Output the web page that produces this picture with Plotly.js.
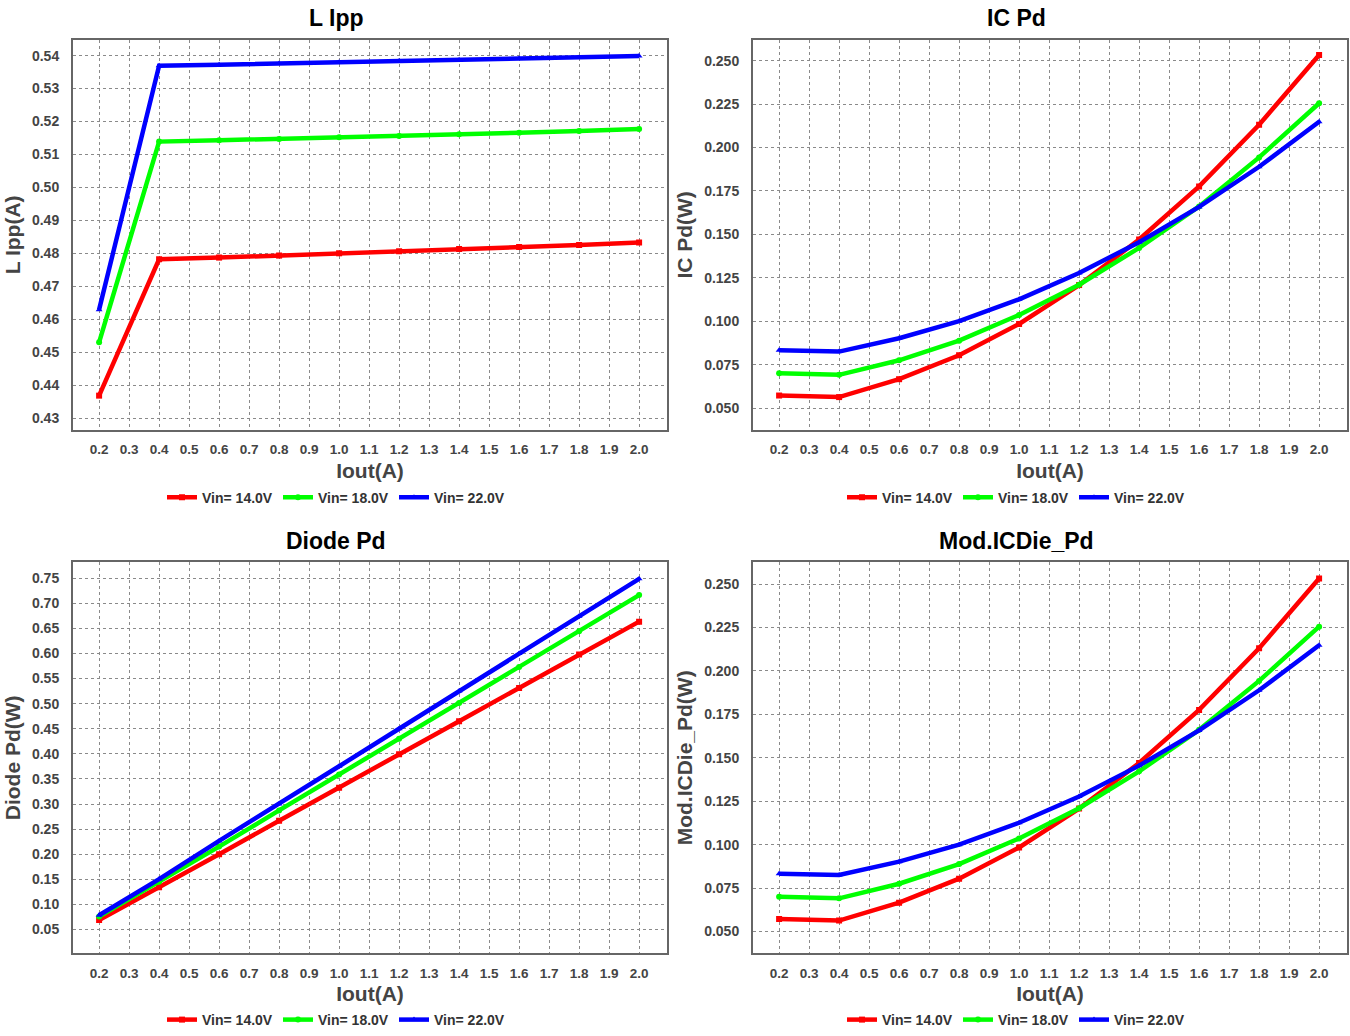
<!DOCTYPE html>
<html>
<head>
<meta charset="utf-8">
<script src="https://cdn.plot.ly/plotly-3.0.1.min.js"></script>
<style>
html,body{margin:0;padding:0;background:#fff;}
#chart{width:1350px;height:1036px;}
</style>
</head>
<body>
<div id="chart"></div>
<script>
// ---- data ----
const iout = [0.2, 0.4, 0.6, 0.8, 1.0, 1.2, 1.4, 1.6, 1.8, 2.0];
const seriesNames = ["Vin= 14.0V", "Vin= 18.0V", "Vin= 22.0V"];

const lIpp14 = [0.4368, 0.4782, 0.4787, 0.4793, 0.4800, 0.4806, 0.4813, 0.4819, 0.4825, 0.4833];
const lIpp18 = [0.4530, 0.5139, 0.5143, 0.5147, 0.5152, 0.5156, 0.5161, 0.5166, 0.5171, 0.5177];
const lIpp22 = [0.4629, 0.5369, 0.5372, 0.5376, 0.5380, 0.5384, 0.5387, 0.5391, 0.5394, 0.5399];

const icPd14 = [0.0572, 0.0563, 0.0666, 0.0804, 0.0984, 0.1208, 0.1470, 0.1776, 0.2131, 0.2533];
const icPd18 = [0.0700, 0.0691, 0.0775, 0.0888, 0.1036, 0.1210, 0.1422, 0.1661, 0.1943, 0.2255];
const icPd22 = [0.0833, 0.0825, 0.0902, 0.1000, 0.1126, 0.1277, 0.1455, 0.1658, 0.1889, 0.2148];

const diodePd14 = [0.0690, 0.1340, 0.2000, 0.2668, 0.3322, 0.3990, 0.4650, 0.5312, 0.5980, 0.6634];
const diodePd18 = [0.0757, 0.1452, 0.2152, 0.2873, 0.3587, 0.4300, 0.5015, 0.5729, 0.6442, 0.7163];
const diodePd22 = [0.0784, 0.1505, 0.2265, 0.3000, 0.3752, 0.4500, 0.5253, 0.6000, 0.6740, 0.7487];

const modPd14 = [0.0572, 0.0563, 0.0666, 0.0804, 0.0984, 0.1208, 0.1470, 0.1776, 0.2131, 0.2533];
const modPd18 = [0.0700, 0.0691, 0.0775, 0.0888, 0.1036, 0.1210, 0.1422, 0.1661, 0.1943, 0.2255];
const modPd22 = [0.0833, 0.0825, 0.0902, 0.1000, 0.1126, 0.1277, 0.1455, 0.1658, 0.1889, 0.2148];

const panelTitles = ["L Ipp", "IC Pd", "Diode Pd", "Mod.ICDie_Pd"];
const yTitles = ["L Ipp(A)", "IC Pd(W)", "Diode Pd(W)", "Mod.ICDie_Pd(W)"];
const xTitle = "Iout(A)";

// ---- styling ----
const colors = ["#ff0000", "#00ff00", "#0000ff"];
const symbols = ["square", "circle", "triangle-up"];
const FONT = "Liberation Sans, Arial, sans-serif";

const panels = [
  {ys: [lIpp14, lIpp18, lIpp22], xa: "x", ya: "y", lg: "legend", yr: [0.4264, 0.5448], dt: 0.01, fmt: ".2f"},
  {ys: [icPd14, icPd18, icPd22], xa: "x2", ya: "y2", lg: "legend2", yr: [0.0374, 0.262], dt: 0.025, fmt: ".3f"},
  {ys: [diodePd14, diodePd18, diodePd22], xa: "x3", ya: "y3", lg: "legend3", yr: [0.0024, 0.7817], dt: 0.05, fmt: ".2f"},
  {ys: [modPd14, modPd18, modPd22], xa: "x4", ya: "y4", lg: "legend4", yr: [0.0374, 0.2626], dt: 0.025, fmt: ".3f"}
];

const traces = [];
panels.forEach(p => {
  p.ys.forEach((ys, i) => {
    traces.push({
      x: iout, y: ys, xaxis: p.xa, yaxis: p.ya, legend: p.lg,
      type: "scatter", mode: "lines+markers", name: seriesNames[i],
      line: {color: colors[i], width: 4.5},
      marker: {color: colors[i], symbol: symbols[i], size: 6}
    });
  });
});

const W = 1350, H = 1036;
const colX = [[73 / W, 667 / W], [753 / W, 1347 / W]];
const rowY = [[1 - 432 / H, 1 - 40 / H], [1 - 958 / H, 1 - 565 / H]];

function xaxis(dom, anchor) {
  return {
    domain: dom, anchor: anchor, range: [0.113, 2.093],
    tickmode: "linear", tick0: 0.2, dtick: 0.1, tickformat: ".1f",
    showgrid: true, gridcolor: "#8a8a8a", griddash: "dot", gridwidth: 1,
    zeroline: false, showline: true, mirror: true, linecolor: "#666", linewidth: 2,
    ticks: "", ticklabelstandoff: 6,
    tickfont: {family: FONT, size: 13.5, color: "#444", weight: "bold"},
    title: {text: xTitle, font: {family: FONT, size: 21, color: "#444", weight: "bold"}, standoff: 7}
  };
}
function yaxis(dom, anchor, p, t) {
  return {
    domain: dom, anchor: anchor, range: p.yr,
    tickmode: "linear", tick0: 0, dtick: p.dt, tickformat: p.fmt,
    showgrid: true, gridcolor: "#8a8a8a", griddash: "dot", gridwidth: 1,
    zeroline: false, showline: true, mirror: true, linecolor: "#666", linewidth: 2,
    ticks: "", ticklabelstandoff: 9,
    tickfont: {family: FONT, size: 14, color: "#444", weight: "bold"},
    title: {text: t, font: {family: FONT, size: 21, color: "#444", weight: "bold"}, standoff: 6}
  };
}

function legend(cx, y) {
  return {
    x: cx, y: y, xanchor: "center", yanchor: "middle", orientation: "h",
    font: {family: FONT, size: 14, color: "#333", weight: "bold"},
    itemwidth: 30, entrywidth: 71, entrywidthmode: "pixels",
    tracegroupgap: 0, bgcolor: "rgba(0,0,0,0)",
    itemclick: false, itemdoubleclick: false
  };
}

const tx0 = 336 / W, tx1 = 1016 / W;

const layout = {
  width: W, height: H,
  margin: {l: 0, r: 0, t: 0, b: 0},
  paper_bgcolor: "#fff", plot_bgcolor: "#fff",
  showlegend: true,
  xaxis: xaxis(colX[0], "y"),
  yaxis: yaxis(rowY[0], "x", panels[0], yTitles[0]),
  xaxis2: xaxis(colX[1], "y2"),
  yaxis2: yaxis(rowY[0], "x2", panels[1], yTitles[1]),
  xaxis3: xaxis(colX[0], "y3"),
  yaxis3: yaxis(rowY[1], "x3", panels[2], yTitles[2]),
  xaxis4: xaxis(colX[1], "y4"),
  yaxis4: yaxis(rowY[1], "x4", panels[3], yTitles[3]),
  legend: legend(tx0, 1 - 500 / H),
  legend2: legend(tx1, 1 - 500 / H),
  legend3: legend(tx0, 1 - 1025 / H),
  legend4: legend(tx1, 1 - 1025 / H),
  annotations: [
    [tx0, 18], [tx1, 18], [tx0, 544], [tx1, 544]
  ].map((pos, i) => ({
    text: panelTitles[i], xref: "paper", yref: "paper",
    x: pos[0], y: 1 - pos[1] / H, xanchor: "center", yanchor: "middle",
    showarrow: false, font: {family: FONT, size: 23, color: "#000", weight: "bold"}
  }))
};

Plotly.newPlot("chart", traces, layout, {staticPlot: true, displayModeBar: false});
</script>
</body>
</html>
